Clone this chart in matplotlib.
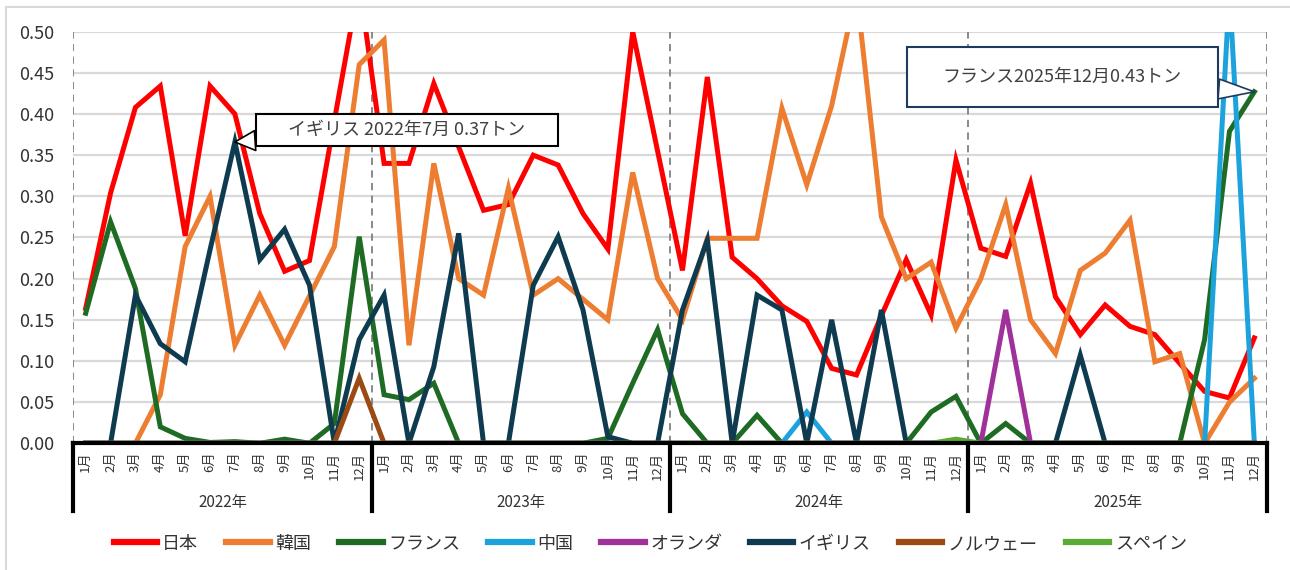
import numpy as np
import matplotlib
matplotlib.use("Agg")
import matplotlib.pyplot as plt
import matplotlib.transforms as mtransforms
from matplotlib.path import Path
from matplotlib.patches import Rectangle

plt.rcParams['font.family'] = ['Noto Sans CJK JP', 'DejaVu Sans']

# データ (2022年1月〜2025年12月, トン)
years = ['2022年', '2023年', '2024年', '2025年']
months = [f'{m}月' for m in range(1, 13)]

japan = [0.164, 0.304, 0.408, 0.434, 0.252, 0.434, 0.400, 0.279, 0.209, 0.222, 0.392, 0.560,
         0.340, 0.340, 0.437, 0.360, 0.283, 0.290, 0.350, 0.338, 0.279, 0.236, 0.500, 0.355,
         0.210, 0.445, 0.226, 0.200, 0.167, 0.148, 0.091, 0.083, 0.155, 0.223, 0.156, 0.344,
         0.237, 0.227, 0.316, 0.178, 0.132, 0.168, 0.142, 0.132, 0.097, 0.063, 0.055, 0.128]
korea = [0.0, 0.0, 0.0, 0.059, 0.239, 0.300, 0.119, 0.180, 0.119, 0.179, 0.239, 0.460,
         0.490, 0.119, 0.340, 0.200, 0.180, 0.310, 0.180, 0.200, 0.175, 0.150, 0.329, 0.200,
         0.150, 0.249, 0.249, 0.249, 0.407, 0.314, 0.410, 0.550, 0.275, 0.200, 0.220, 0.140,
         0.200, 0.290, 0.150, 0.109, 0.210, 0.231, 0.271, 0.099, 0.109, 0.0, 0.050, 0.079]
france = [0.158, 0.269, 0.188, 0.020, 0.006, 0.001, 0.002, 0.0, 0.005, 0.0, 0.024, 0.251,
          0.059, 0.053, 0.073, 0.0, 0.0, 0.0, 0.0, 0.0, 0.0, 0.006, 0.073, 0.138,
          0.036, 0.0, 0.0, 0.034, 0.0, 0.0, 0.0, 0.0, 0.0, 0.0, 0.038, 0.057,
          0.0, 0.024, 0.0, 0.0, 0.0, 0.0, 0.0, 0.0, 0.0, 0.126, 0.379, 0.427]
china = [0.0] * 12 + [0.0] * 12 + \
        [0.0, 0.0, 0.0, 0.0, 0.0, 0.038, 0.0, 0.0, 0.0, 0.0, 0.0, 0.0] + \
        [0.0, 0.0, 0.0, 0.0, 0.0, 0.0, 0.0, 0.0, 0.0, 0.0, 0.550, 0.0]
netherlands = [0.0] * 36 + [0.0, 0.162, 0.0, 0.0, 0.0, 0.0, 0.0, 0.0, 0.0, 0.0, 0.0, 0.0]
uk = [0.0, 0.0, 0.180, 0.121, 0.099, 0.235, 0.366, 0.223, 0.260, 0.192, 0.0, 0.126,
      0.180, 0.0, 0.093, 0.255, 0.0, 0.0, 0.192, 0.251, 0.162, 0.008, 0.0, 0.0,
      0.162, 0.247, 0.0, 0.180, 0.162, 0.0, 0.150, 0.0, 0.162, 0.0, 0.0, 0.0,
      0.0, 0.0, 0.0, 0.0, 0.107, 0.0, 0.0, 0.0, 0.0, 0.0, 0.0, 0.0]
norway = [0.0] * 11 + [0.079] + [0.0] * 36
spain = [0.0] * 35 + [0.005] + [0.0] * 12

series = [('日本', japan, '#FF0000'),
          ('韓国', korea, '#ED7D31'),
          ('フランス', france, '#1E6B24'),
          ('中国', china, '#1CA3DE'),
          ('オランダ', netherlands, '#A0309A'),
          ('イギリス', uk, '#0F3B50'),
          ('ノルウェー', norway, '#9C4A13'),
          ('スペイン', spain, '#5AAA36')]

fig = plt.figure(figsize=(12.9, 5.7), dpi=100)
ax = fig.add_axes([0.0568, 0.2223, 0.9252, 0.7221])

x = np.arange(len(years) * len(months))
for name, vals, col in series:
    ax.plot(x, vals, color=col, lw=3.6, label=name, solid_joinstyle='miter')

ax.set_xlim(-0.5, len(x) - 0.5)
ax.set_ylim(0, 0.5)
ax.set_yticks(np.arange(0, 0.501, 0.05))
ax.set_yticklabels([f'{v:.2f}' for v in np.arange(0, 0.501, 0.05)])
ax.yaxis.grid(True, color='#D9D9D9', lw=1.6)
ax.set_axisbelow(True)
ax.tick_params(axis='y', length=0, pad=14, labelsize=13, labelcolor='#333333')

ax.set_xticks(x)
ax.set_xticklabels(months * len(years), rotation=90, va='top', ha='center')
ax.tick_params(axis='x', length=0, pad=6, labelsize=9.5, labelcolor='#333333')

for s in ['left', 'right', 'top']:
    ax.spines[s].set_visible(False)
ax.spines['bottom'].set_linewidth(3)
ax.spines['bottom'].set_color('black')
ax.spines['bottom'].set_zorder(5)

# 年の区切り
trans = mtransforms.blended_transform_factory(ax.transData, ax.transAxes)
for k in range(len(years) + 1):
    xb = k * len(months) - 0.5
    ax.axvline(xb, color='#808080', lw=1.3, ls=(0, (4, 3)), zorder=1)
    ax.plot([xb, xb], [0, -0.165], color='black', lw=3, transform=trans, clip_on=False)
for k, yr in enumerate(years):
    ax.text(k * len(months) + 5.5, -0.143, yr, transform=trans, ha='center', va='center',
            fontsize=11, color='#333333')


def callout_box(padx, pady):
    def box(x0, y0, width, height, mutation_size):
        px, py = padx * mutation_size, pady * mutation_size
        x0, y0 = x0 - px, y0 - py
        x1, y1 = x0 + width + 2 * px, y0 + height + 2 * py
        return Path([(x0, y0), (x1, y0), (x1, y1), (x0, y1), (x0, y0)], closed=True)
    return box


ax.annotate('イギリス 2022年7月 0.37トン', xy=(6, uk[6]), xytext=(172, 12),
            textcoords='offset pixels', ha='center', va='center', fontsize=13,
            color='#404040', zorder=10,
            bbox=dict(boxstyle=callout_box(1.8, 0.4), fc='white', ec='black', lw=1.5),
            arrowprops=dict(arrowstyle='wedge,tail_width=1.1', fc='white', ec='black',
                            lw=1.2, shrinkA=0, shrinkB=0))
ax.annotate('フランス2025年12月0.43トン', xy=(47, france[47]), xytext=(-192, 15),
            textcoords='offset pixels', ha='center', va='center', fontsize=13,
            color='#404040', zorder=10,
            bbox=dict(boxstyle=callout_box(2.0, 1.15), fc='white', ec='#1F3A5F', lw=1.5),
            arrowprops=dict(arrowstyle='wedge,tail_width=1.1', fc='white', ec='#1F3A5F',
                            lw=1.2, shrinkA=0, shrinkB=0))

leg = fig.legend(loc='center', bbox_to_anchor=(0.504, 0.046), ncol=8, frameon=False,
                 fontsize=13, handlelength=2.4, columnspacing=1.56, handletextpad=0.3)
for h in leg.get_lines():
    h.set_linewidth(4.5)
for t in leg.get_texts():
    t.set_color('#333333')

fig.patches.append(Rectangle((0.005, -0.05), 1.0, 1.037, transform=fig.transFigure,
                             fill=False, ec='#D9D9D9', lw=1.5))

fig.savefig('out.png', dpi=100)
